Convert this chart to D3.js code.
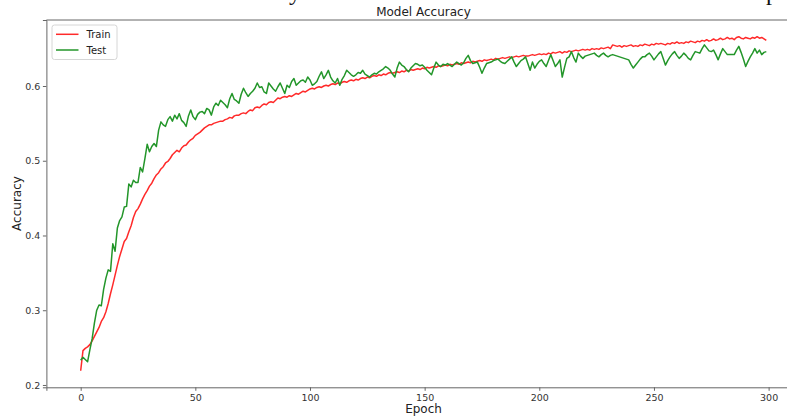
<!DOCTYPE html>
<html>
<head>
<meta charset="utf-8">
<script src="https://cdn.jsdelivr.net/npm/d3@7"></script>
<style>
  body { margin: 0; background: #fff; }
  svg { display: block; font-family: "DejaVu Sans", sans-serif; }
</style>
</head>
<body>
<div id="chart"></div>
<script>
const chart_width = 787;
const chart_height = 417;

const chart_title = 'Model Accuracy';
const x_label = 'Epoch';
const y_label = 'Accuracy';
const series_names = ['Train', 'Test'];
const x_ticks = [0, 50, 100, 150, 200, 250, 300];
const y_ticks = [0.2, 0.3, 0.4, 0.5, 0.6];

const train_acc = [
  0.219, 0.246, 0.249, 0.251, 0.254, 0.259, 0.265, 0.271, 0.277, 0.285,
  0.290, 0.298, 0.309, 0.322, 0.334, 0.347, 0.360, 0.372, 0.382, 0.392,
  0.396, 0.405, 0.413, 0.424, 0.432, 0.436, 0.442, 0.449, 0.455, 0.460,
  0.466, 0.470, 0.476, 0.481, 0.484, 0.489, 0.492, 0.497, 0.499, 0.503,
  0.508, 0.511, 0.514, 0.512, 0.517, 0.520, 0.521, 0.525, 0.528, 0.530,
  0.534, 0.536, 0.538, 0.541, 0.544, 0.546, 0.548, 0.548, 0.550, 0.551,
  0.552, 0.553, 0.553, 0.555, 0.556, 0.558, 0.557, 0.560, 0.561, 0.561,
  0.563, 0.564, 0.563, 0.566, 0.568, 0.567, 0.571, 0.572, 0.571, 0.574,
  0.576, 0.575, 0.578, 0.579, 0.578, 0.581, 0.584, 0.583, 0.585, 0.586,
  0.585, 0.587, 0.586, 0.588, 0.590, 0.589, 0.591, 0.593, 0.592, 0.594,
  0.596, 0.597, 0.596, 0.598, 0.599, 0.598, 0.600, 0.601, 0.600, 0.602,
  0.603, 0.602, 0.604, 0.603, 0.605, 0.606, 0.605, 0.607, 0.608, 0.607,
  0.609, 0.608, 0.610, 0.611, 0.610, 0.612, 0.611, 0.613, 0.614, 0.613,
  0.615, 0.614, 0.616, 0.615, 0.617, 0.618, 0.617, 0.618, 0.619, 0.618,
  0.620, 0.619, 0.621, 0.620, 0.622, 0.621, 0.622, 0.623, 0.622, 0.624,
  0.623, 0.625, 0.624, 0.625, 0.626, 0.625, 0.627, 0.626, 0.627, 0.628,
  0.627, 0.629, 0.628, 0.629, 0.630, 0.629, 0.631, 0.630, 0.631, 0.632,
  0.631, 0.633, 0.632, 0.633, 0.634, 0.633, 0.635, 0.634, 0.635, 0.636,
  0.635, 0.637, 0.636, 0.637, 0.638, 0.637, 0.638, 0.639, 0.638, 0.639,
  0.640, 0.639, 0.640, 0.641, 0.640, 0.640, 0.641, 0.642, 0.641, 0.642,
  0.643, 0.642, 0.643, 0.642, 0.644, 0.643, 0.645, 0.644, 0.645, 0.646,
  0.644, 0.646, 0.645, 0.647, 0.646, 0.647, 0.648, 0.647, 0.648, 0.649,
  0.648, 0.649, 0.648, 0.650, 0.649, 0.650, 0.649, 0.651, 0.650, 0.651,
  0.652, 0.650, 0.655, 0.654, 0.653, 0.654, 0.652, 0.654, 0.653, 0.654,
  0.655, 0.653, 0.654, 0.653, 0.655, 0.654, 0.656, 0.655, 0.654, 0.656,
  0.655, 0.657, 0.656, 0.657, 0.656, 0.655, 0.657, 0.656, 0.658, 0.657,
  0.659, 0.657, 0.658, 0.657, 0.659, 0.658, 0.660, 0.659, 0.658, 0.660,
  0.659, 0.661, 0.660, 0.662, 0.660, 0.661, 0.663, 0.661, 0.662, 0.664,
  0.662, 0.663, 0.665, 0.663, 0.664, 0.662, 0.665, 0.666, 0.664, 0.663,
  0.665, 0.664, 0.663, 0.665, 0.664, 0.666, 0.664, 0.665, 0.663, 0.661
];

const test_acc = [
  0.233, 0.237, 0.234, 0.231, 0.247, 0.262, 0.283, 0.300, 0.307, 0.306,
  0.328, 0.343, 0.354, 0.352, 0.389, 0.379, 0.410, 0.420, 0.425, 0.438,
  0.439, 0.469, 0.465, 0.474, 0.471, 0.471, 0.491, 0.485, 0.503, 0.522,
  0.512, 0.519, 0.523, 0.519, 0.541, 0.552, 0.548, 0.546, 0.555, 0.559,
  0.553, 0.561, 0.556, 0.563, 0.554, 0.551, 0.546, 0.560, 0.568, 0.559,
  0.555, 0.562, 0.565, 0.566, 0.563, 0.570, 0.568, 0.561, 0.572, 0.577,
  0.574, 0.581, 0.578, 0.575, 0.571, 0.583, 0.590, 0.582, 0.580, 0.577,
  0.589, 0.597, 0.591, 0.586, 0.590, 0.593, 0.597, 0.604, 0.598, 0.599,
  0.592, 0.590, 0.604, 0.600, 0.596, 0.593, 0.599, 0.604, 0.597, 0.590,
  0.601, 0.598, 0.606, 0.610, 0.601, 0.604, 0.607, 0.608, 0.605, 0.612,
  0.608, 0.601, 0.603, 0.606, 0.613, 0.619, 0.610, 0.615, 0.621, 0.612,
  0.607, 0.604, 0.610, 0.601, 0.609, 0.614, 0.621, 0.618, 0.615, 0.613,
  0.615, 0.618, 0.617, 0.621, 0.616, 0.614, 0.612, 0.615, 0.617, 0.616,
  0.619, 0.621, 0.623, 0.626, 0.624, 0.621, 0.616, 0.612, 0.624, 0.632,
  0.628, 0.626, 0.622, 0.619, 0.624, 0.627, 0.630, 0.629, 0.627, 0.628,
  0.625, 0.621, 0.618, 0.615, 0.624, 0.632, 0.628, 0.626, 0.629, 0.628,
  0.630, 0.628, 0.626, 0.629, 0.632, 0.630, 0.628, 0.631, 0.637, 0.641,
  0.634, 0.630, 0.631, 0.632, 0.625, 0.617, 0.624, 0.630, 0.631, 0.632,
  0.634, 0.635, 0.636, 0.633, 0.631, 0.630, 0.633, 0.636, 0.639, 0.632,
  0.626, 0.630, 0.634, 0.636, 0.639, 0.630, 0.621, 0.632, 0.624, 0.629,
  0.633, 0.635, 0.630, 0.626, 0.634, 0.642, 0.634, 0.626, 0.630, 0.635,
  0.612, 0.625, 0.637, 0.639, 0.646, 0.638, 0.632, 0.644, 0.640, 0.637,
  0.640, 0.641, 0.642, 0.643, 0.644, 0.641, 0.639, 0.642, 0.644, 0.641,
  0.639, 0.641, 0.642, 0.641, 0.640, 0.639, 0.638, 0.637, 0.636, 0.635,
  0.629, 0.624, 0.628, 0.632, 0.636, 0.639, 0.639, 0.642, 0.644, 0.640,
  0.635, 0.639, 0.643, 0.646, 0.637, 0.628, 0.634, 0.639, 0.643, 0.646,
  0.641, 0.637, 0.640, 0.644, 0.641, 0.637, 0.635, 0.641, 0.646, 0.645,
  0.644, 0.650, 0.655, 0.651, 0.647, 0.646, 0.648, 0.642, 0.635, 0.643,
  0.650, 0.646, 0.642, 0.642, 0.642, 0.642, 0.648, 0.653, 0.645, 0.636,
  0.626, 0.633, 0.639, 0.644, 0.650, 0.644, 0.648, 0.642, 0.645, 0.646
];

const line_colors = ['#ff2a2a', '#23962a'];

function draw_accuracy(){
    var svg = d3.select('#chart')
                .append('svg')
                .attr('width', chart_width)
                .attr('height', chart_height);

    // descenders of the document line cut off above the figure
    svg.append('text').attr('x', 289).attr('y', 0)
        .style('font-family', '"Liberation Serif", serif').style('font-size', '24px')
        .attr('fill', '#111').text('y');
    svg.append('text').attr('x', 766).attr('y', 0)
        .style('font-family', '"Liberation Serif", serif').style('font-size', '24px')
        .attr('fill', '#111').text('p');

    var xScale = d3.scaleLinear()
                    .domain([-14.95, 313.95])
                    .range([46.4, 800.6]);
    var yScale = d3.scaleLinear()
                    .domain([0.1969, 0.6883])
                    .range([387.3, 20]);

    var train = train_acc.map(function(d, i){ return {epoch: i, value: d}; });
    var test = test_acc.map(function(d, i){ return {epoch: i, value: d}; });

    var line = d3.line()
                 .x(function(d){ return xScale(d.epoch); })
                 .y(function(d){ return yScale(d.value); });

    svg.append('path').datum(train)
        .attr('d', line).attr('fill', 'none')
        .attr('stroke', line_colors[0]).attr('stroke-width', 1.5)
        .attr('stroke-linejoin', 'round');
    svg.append('path').datum(test)
        .attr('d', line).attr('fill', 'none')
        .attr('stroke', line_colors[1]).attr('stroke-width', 1.5)
        .attr('stroke-linejoin', 'round');

    var xAxis = svg.append('g')
        .attr('transform', 'translate(0,387.3)')
        .call(d3.axisBottom(xScale).tickValues(x_ticks).tickSize(3.5).tickPadding(3.5));
    var yAxis = svg.append('g')
        .attr('transform', 'translate(46.4,0)')
        .call(d3.axisLeft(yScale).tickValues(y_ticks).tickFormat(d3.format('.1f')).tickSize(3.5).tickPadding(2.5));

    [xAxis, yAxis].forEach(function(ax){
        ax.select('.domain').attr('stroke', '#666');
        ax.selectAll('.tick line').attr('stroke', '#666');
        ax.selectAll('.tick text')
          .attr('fill', '#333')
          .style('font-family', '"DejaVu Sans", sans-serif')
          .style('font-size', '9.5px');
    });

    // top spine
    svg.append('line')
        .attr('x1', 46.4).attr('x2', 800.6)
        .attr('y1', 20).attr('y2', 20)
        .attr('stroke', '#666');

    svg.append('text')
        .attr('x', 423.5).attr('y', 16)
        .attr('text-anchor', 'middle')
        .attr('fill', '#222')
        .style('font-size', '12px')
        .text(chart_title);

    svg.append('text')
        .attr('x', 423.5).attr('y', 413)
        .attr('text-anchor', 'middle')
        .attr('fill', '#222')
        .style('font-size', '12px')
        .text(x_label);

    svg.append('text')
        .attr('transform', 'translate(21,203.5) rotate(-90)')
        .attr('text-anchor', 'middle')
        .attr('fill', '#222')
        .style('font-size', '12px')
        .text(y_label);

    var legend = svg.append('g');
    legend.append('rect')
        .attr('x', 52).attr('y', 25)
        .attr('width', 65).attr('height', 34.5)
        .attr('rx', 2.5)
        .attr('fill', '#fff')
        .attr('stroke', '#d6d6d6');

    series_names.forEach(function(name, i){
        var ly = 34.3 + i * 15.7;
        legend.append('line')
            .attr('x1', 56).attr('x2', 78.5)
            .attr('y1', ly).attr('y2', ly)
            .attr('stroke', line_colors[i]).attr('stroke-width', 1.5);
        legend.append('text')
            .attr('x', 86.5).attr('y', ly)
            .attr('dy', '0.35em')
            .attr('fill', '#222')
            .style('font-size', '10px')
            .text(name);
    });
}

draw_accuracy();
</script>
</body>
</html>
